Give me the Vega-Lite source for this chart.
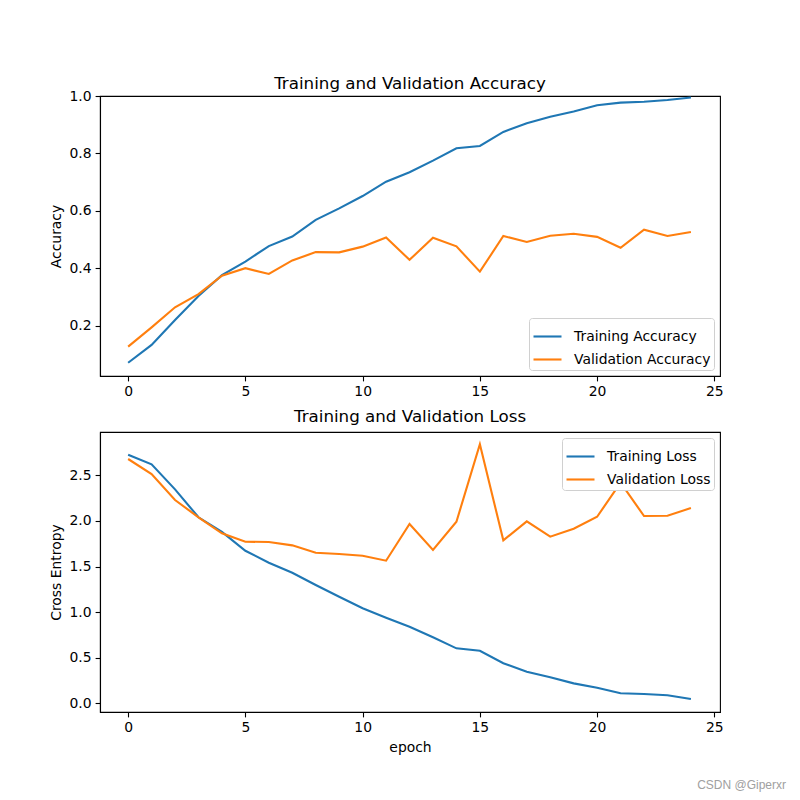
{
  "$schema": "https://vega.github.io/schema/vega-lite/v6.json",
  "padding": {"left": 48, "top": 75, "right": 5, "bottom": 5},
  "spacing": 8,
  "title": {"text": "CSDN @Giperxr", "orient": "bottom", "anchor": "end", "fontSize": 12, "color": "#a0a0a0", "fontWeight": "normal", "font": "Liberation Sans", "offset": 25, "dx": 66},
  "datasets": {
    "acc": [
      {"epoch": 0, "value": 0.072, "series": "Training Accuracy"},
      {"epoch": 1, "value": 0.134, "series": "Training Accuracy"},
      {"epoch": 2, "value": 0.221, "series": "Training Accuracy"},
      {"epoch": 3, "value": 0.304, "series": "Training Accuracy"},
      {"epoch": 4, "value": 0.377, "series": "Training Accuracy"},
      {"epoch": 5, "value": 0.424, "series": "Training Accuracy"},
      {"epoch": 6, "value": 0.478, "series": "Training Accuracy"},
      {"epoch": 7, "value": 0.511, "series": "Training Accuracy"},
      {"epoch": 8, "value": 0.569, "series": "Training Accuracy"},
      {"epoch": 9, "value": 0.609, "series": "Training Accuracy"},
      {"epoch": 10, "value": 0.652, "series": "Training Accuracy"},
      {"epoch": 11, "value": 0.702, "series": "Training Accuracy"},
      {"epoch": 12, "value": 0.735, "series": "Training Accuracy"},
      {"epoch": 13, "value": 0.775, "series": "Training Accuracy"},
      {"epoch": 14, "value": 0.818, "series": "Training Accuracy"},
      {"epoch": 15, "value": 0.826, "series": "Training Accuracy"},
      {"epoch": 16, "value": 0.875, "series": "Training Accuracy"},
      {"epoch": 17, "value": 0.905, "series": "Training Accuracy"},
      {"epoch": 18, "value": 0.928, "series": "Training Accuracy"},
      {"epoch": 19, "value": 0.946, "series": "Training Accuracy"},
      {"epoch": 20, "value": 0.968, "series": "Training Accuracy"},
      {"epoch": 21, "value": 0.977, "series": "Training Accuracy"},
      {"epoch": 22, "value": 0.980, "series": "Training Accuracy"},
      {"epoch": 23, "value": 0.986, "series": "Training Accuracy"},
      {"epoch": 24, "value": 0.995, "series": "Training Accuracy"},
      {"epoch": 0, "value": 0.128, "series": "Validation Accuracy"},
      {"epoch": 1, "value": 0.195, "series": "Validation Accuracy"},
      {"epoch": 2, "value": 0.265, "series": "Validation Accuracy"},
      {"epoch": 3, "value": 0.311, "series": "Validation Accuracy"},
      {"epoch": 4, "value": 0.375, "series": "Validation Accuracy"},
      {"epoch": 5, "value": 0.401, "series": "Validation Accuracy"},
      {"epoch": 6, "value": 0.381, "series": "Validation Accuracy"},
      {"epoch": 7, "value": 0.428, "series": "Validation Accuracy"},
      {"epoch": 8, "value": 0.457, "series": "Validation Accuracy"},
      {"epoch": 9, "value": 0.456, "series": "Validation Accuracy"},
      {"epoch": 10, "value": 0.476, "series": "Validation Accuracy"},
      {"epoch": 11, "value": 0.508, "series": "Validation Accuracy"},
      {"epoch": 12, "value": 0.430, "series": "Validation Accuracy"},
      {"epoch": 13, "value": 0.507, "series": "Validation Accuracy"},
      {"epoch": 14, "value": 0.477, "series": "Validation Accuracy"},
      {"epoch": 15, "value": 0.389, "series": "Validation Accuracy"},
      {"epoch": 16, "value": 0.513, "series": "Validation Accuracy"},
      {"epoch": 17, "value": 0.492, "series": "Validation Accuracy"},
      {"epoch": 18, "value": 0.514, "series": "Validation Accuracy"},
      {"epoch": 19, "value": 0.521, "series": "Validation Accuracy"},
      {"epoch": 20, "value": 0.510, "series": "Validation Accuracy"},
      {"epoch": 21, "value": 0.472, "series": "Validation Accuracy"},
      {"epoch": 22, "value": 0.535, "series": "Validation Accuracy"},
      {"epoch": 23, "value": 0.513, "series": "Validation Accuracy"},
      {"epoch": 24, "value": 0.527, "series": "Validation Accuracy"}
    ],
    "loss": [
      {"epoch": 0, "value": 2.726, "series": "Training Loss"},
      {"epoch": 1, "value": 2.62, "series": "Training Loss"},
      {"epoch": 2, "value": 2.346, "series": "Training Loss"},
      {"epoch": 3, "value": 2.04, "series": "Training Loss"},
      {"epoch": 4, "value": 1.88, "series": "Training Loss"},
      {"epoch": 5, "value": 1.673, "series": "Training Loss"},
      {"epoch": 6, "value": 1.542, "series": "Training Loss"},
      {"epoch": 7, "value": 1.432, "series": "Training Loss"},
      {"epoch": 8, "value": 1.297, "series": "Training Loss"},
      {"epoch": 9, "value": 1.169, "series": "Training Loss"},
      {"epoch": 10, "value": 1.042, "series": "Training Loss"},
      {"epoch": 11, "value": 0.939, "series": "Training Loss"},
      {"epoch": 12, "value": 0.84, "series": "Training Loss"},
      {"epoch": 13, "value": 0.724, "series": "Training Loss"},
      {"epoch": 14, "value": 0.603, "series": "Training Loss"},
      {"epoch": 15, "value": 0.577, "series": "Training Loss"},
      {"epoch": 16, "value": 0.439, "series": "Training Loss"},
      {"epoch": 17, "value": 0.347, "series": "Training Loss"},
      {"epoch": 18, "value": 0.285, "series": "Training Loss"},
      {"epoch": 19, "value": 0.219, "series": "Training Loss"},
      {"epoch": 20, "value": 0.171, "series": "Training Loss"},
      {"epoch": 21, "value": 0.11, "series": "Training Loss"},
      {"epoch": 22, "value": 0.102, "series": "Training Loss"},
      {"epoch": 23, "value": 0.088, "series": "Training Loss"},
      {"epoch": 24, "value": 0.047, "series": "Training Loss"},
      {"epoch": 0, "value": 2.679, "series": "Validation Loss"},
      {"epoch": 1, "value": 2.514, "series": "Validation Loss"},
      {"epoch": 2, "value": 2.229, "series": "Validation Loss"},
      {"epoch": 3, "value": 2.04, "series": "Validation Loss"},
      {"epoch": 4, "value": 1.864, "series": "Validation Loss"},
      {"epoch": 5, "value": 1.772, "series": "Validation Loss"},
      {"epoch": 6, "value": 1.769, "series": "Validation Loss"},
      {"epoch": 7, "value": 1.732, "series": "Validation Loss"},
      {"epoch": 8, "value": 1.651, "series": "Validation Loss"},
      {"epoch": 9, "value": 1.637, "series": "Validation Loss"},
      {"epoch": 10, "value": 1.618, "series": "Validation Loss"},
      {"epoch": 11, "value": 1.564, "series": "Validation Loss"},
      {"epoch": 12, "value": 1.966, "series": "Validation Loss"},
      {"epoch": 13, "value": 1.681, "series": "Validation Loss"},
      {"epoch": 14, "value": 1.991, "series": "Validation Loss"},
      {"epoch": 15, "value": 2.84, "series": "Validation Loss"},
      {"epoch": 16, "value": 1.787, "series": "Validation Loss"},
      {"epoch": 17, "value": 1.995, "series": "Validation Loss"},
      {"epoch": 18, "value": 1.827, "series": "Validation Loss"},
      {"epoch": 19, "value": 1.915, "series": "Validation Loss"},
      {"epoch": 20, "value": 2.046, "series": "Validation Loss"},
      {"epoch": 21, "value": 2.419, "series": "Validation Loss"},
      {"epoch": 22, "value": 2.054, "series": "Validation Loss"},
      {"epoch": 23, "value": 2.057, "series": "Validation Loss"},
      {"epoch": 24, "value": 2.141, "series": "Validation Loss"}
    ]
  },
  "vconcat": [
    {
      "title": {"text": "Training and Validation Accuracy", "offset": -4},
      "width": 620,
      "height": 280,
      "data": {"name": "acc"},
      "mark": {"type": "line", "strokeWidth": 2.1},
      "encoding": {
        "x": {"field": "epoch", "type": "quantitative", "scale": {"domain": [-1.2, 25.24], "nice": false, "zero": false}, "axis": {"values": [0, 5, 10, 15, 20, 25], "title": null}},
        "y": {"field": "value", "type": "quantitative", "scale": {"domain": [0.026, 1.0], "nice": false, "zero": false}, "axis": {"values": [0.2, 0.4, 0.6, 0.8, 1.0], "format": ".1f", "title": "Accuracy"}},
        "color": {"field": "series", "type": "nominal", "scale": {"domain": ["Training Accuracy", "Validation Accuracy"], "range": ["#1f77b4", "#ff7f0e"]}, "legend": {"orient": "bottom-right", "offset": 6, "title": null}}
      }
    },
    {
      "title": {"text": "Training and Validation Loss", "offset": 6},
      "width": 620,
      "height": 280,
      "data": {"name": "loss"},
      "mark": {"type": "line", "strokeWidth": 2.1},
      "encoding": {
        "x": {"field": "epoch", "type": "quantitative", "scale": {"domain": [-1.2, 25.24], "nice": false, "zero": false}, "axis": {"values": [0, 5, 10, 15, 20, 25], "title": "epoch"}},
        "y": {"field": "value", "type": "quantitative", "scale": {"domain": [-0.095, 2.975], "nice": false, "zero": false}, "axis": {"values": [0, 0.5, 1.0, 1.5, 2.0, 2.5], "format": ".1f", "title": "Cross Entropy"}},
        "color": {"field": "series", "type": "nominal", "scale": {"domain": ["Training Loss", "Validation Loss"], "range": ["#1f77b4", "#ff7f0e"]}, "legend": {"orient": "top-right", "offset": 6, "title": null}}
      }
    }
  ],
  "resolve": {"scale": {"color": "independent"}},
  "config": {
    "font": "DejaVu Sans",
    "view": {"stroke": "black", "strokeWidth": 1.1},
    "title": {"fontSize": 16.7, "fontWeight": "normal", "font": "DejaVu Sans", "color": "black", "anchor": "middle", "frame": "group"},
    "axis": {
      "grid": false,
      "domainColor": "black",
      "domainWidth": 1.1,
      "tickColor": "black",
      "tickWidth": 1.1,
      "tickSize": 4.9,
      "labelFont": "DejaVu Sans",
      "labelFontSize": 13.9,
      "labelColor": "black",
      "labelPadding": 4,
      "labelFlush": false,
      "labelOverlap": false,
      "titleFont": "DejaVu Sans",
      "titleFontSize": 13.9,
      "titleFontWeight": "normal",
      "titleColor": "black",
      "titlePadding": 5.6
    },
    "legend": {
      "fillColor": "white",
      "strokeColor": "#d0d0d0",
      "cornerRadius": 3,
      "padding": 3,
      "labelFont": "DejaVu Sans",
      "labelFontSize": 13.9,
      "labelColor": "black",
      "labelOffset": 11,
      "symbolType": "stroke",
      "symbolSize": 784,
      "symbolStrokeWidth": 2.1,
      "rowPadding": -5
    }
  }
}
